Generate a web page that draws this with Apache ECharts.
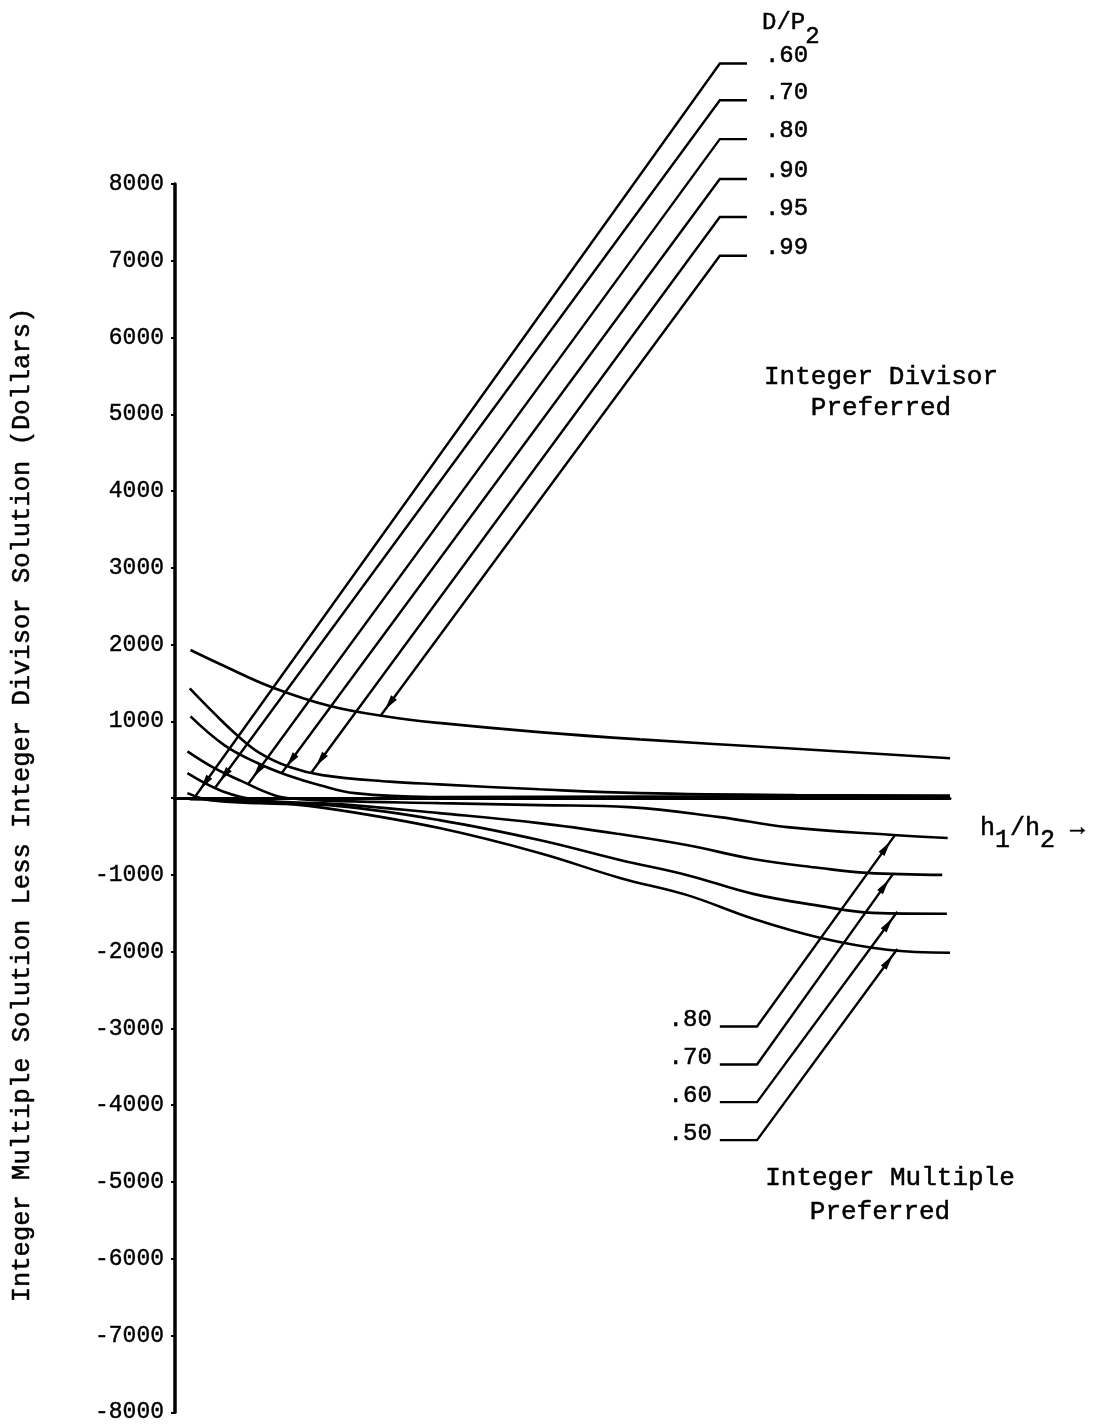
<!DOCTYPE html>
<html><head><meta charset="utf-8">
<script src="https://cdn.jsdelivr.net/npm/echarts@6/dist/echarts.min.js"></script>
<style>html,body{margin:0;padding:0;background:#fff}#c{width:1105px;height:1424px}</style>
</head><body><div id="c"></div>
<script>
// ---------------- data ----------------
// h1/h2 (unnumbered units) vs dollars, one array per D/P2 value
const curveNames = ['.99', '.95', '.90', '.80', '.70', '.60', '.50'];
const dp99 = [[0.2,1930],[0.6,1738],[1.25,1445],[2,1200],[2.75,1060],[3.4,980],[4.7,860],[6,765],[7.9,650],[10,520]];
const dp95 = [[0.19,1430],[0.5,1110],[0.79,830],[1.09,590],[1.48,405],[1.9,300],[2.77,215],[3.41,180],[4.7,115],[6,65],[8,40],[10,35]];
const dp90 = [[0.2,1065],[0.64,688],[1.07,455],[1.45,299],[1.87,169],[2.32,65],[3.3,15],[6,20],[10,25]];
const dp80 = [[0.16,610],[0.51,390],[0.86,221],[1.28,39],[1.61,-13],[2.12,-39],[3.41,-65],[4.7,-91],[5.86,-117],[7.03,-247],[7.9,-377],[9.27,-480],[9.97,-519]];
const dp70 = [[0.16,325],[0.61,91],[1.09,-26],[2.12,-78],[3.41,-195],[4.7,-325],[5.74,-468],[6.6,-610],[7.46,-792],[8.32,-909],[8.93,-974],[9.9,-1000]];
const dp60 = [[0.16,65],[0.45,-26],[1.09,-65],[2.12,-104],[3.41,-286],[4.7,-545],[5.74,-805],[6.6,-1000],[7.46,-1247],[8.32,-1403],[9.0,-1494],[9.96,-1506]];
const dp50 = [[0.19,-13],[1.35,-65],[2.12,-156],[3.41,-390],[4.7,-714],[5.74,-1039],[6.6,-1260],[7.46,-1571],[8.32,-1818],[9.19,-1974],[10,-2013]];
const curveData = [dp99, dp95, dp90, dp80, dp70, dp60, dp50];
const zeroLineExt = [[-1, 0], [0, 0]];

// leader annotations (label row value, arrow tip on the curve)
const upperLabels = ['.60', '.70', '.80', '.90', '.95', '.99'];
const upperRows = [9570, 9090, 8585, 8065, 7570, 7065];
const upperTips = [[0.27,35],[0.52,138],[0.95,190],[1.38,330],[1.76,335],[2.65,1070]];
const lowerLabels = ['.80', '.70', '.60', '.50'];
const lowerRows = [-2975, -3470, -3960, -4455];
const lowerTips = [[9.29,-482],[9.27,-980],[9.32,-1480],[9.32,-1965]];
const upperCornerX = 7.03, upperEndX = 7.38;
const lowerCornerX = 7.51, lowerEndX = 7.03;

const FONT = 'Liberation Mono';

const option = {
  animation: false,
  backgroundColor: '#fff',
  grid: { left: 175, right: 155, top: 184, bottom: 8 },
  xAxis: {
    type: 'value', min: 0, max: 10,
    axisLine: { onZero: true, lineStyle: { color: '#000', width: 3 } },
    axisTick: { show: false }, axisLabel: { show: false }, splitLine: { show: false }
  },
  yAxis: {
    type: 'value', min: -8000, max: 8000, interval: 1000,
    axisLine: { show: true, onZero: false, lineStyle: { color: '#000', width: 3.5 } },
    axisTick: { show: true, length: 4, lineStyle: { color: '#000', width: 2 } },
    axisLabel: {
      color: '#000', fontFamily: FONT, fontSize: 23, margin: 11,
      padding: [0, 0, 10, 0], textBorderColor: '#000', textBorderWidth: 0.4,
      formatter: v => (v === 0 ? '' : String(v))
    },
    splitLine: { show: false }
  },
  series: curveData.map((d, i) => ({
    name: curveNames[i], type: 'line', data: d,
    smooth: 0.4, showSymbol: false, symbol: 'none',
    lineStyle: { color: '#000', width: 2.6 }
  })).concat([{
    name: 'zero', type: 'line', data: zeroLineExt, clip: false,
    showSymbol: false, symbol: 'none', lineStyle: { color: '#000', width: 3 }
  }]),
  graphic: []
};

const chart = echarts.init(document.getElementById('c'));
chart.setOption(option);

const T = (x, y, text, size, align, extra) => Object.assign({
  type: 'text', x, y,
  style: { text, font: size + 'px "' + FONT + '"', fill: '#000', stroke: '#000', lineWidth: 0.5,
    align: align || 'center', verticalAlign: 'middle' }
}, extra || {});

const tok = (size, pad) => ({ fontFamily: FONT, fontSize: size, fill: '#000', stroke: '#000', lineWidth: 0.5, padding: pad });

const g = [
  T(22, 805, 'Integer Multiple Solution Less Integer Divisor Solution (Dollars)', 25.5, 'center', { rotation: Math.PI / 2 }),
  T(881, 377, 'Integer Divisor', 26),
  T(881, 408, 'Preferred', 26),
  T(890, 1178, 'Integer Multiple', 26),
  T(880, 1212, 'Preferred', 26),
  { type: 'text', x: 762, y: 30,
    style: { text: '{m|D/P}{s|2}', align: 'left', verticalAlign: 'middle',
      rich: { m: tok(24, [0, 0, 14, 0]), s: tok(24, [14, 0, 0, 0]) } } },
  { type: 'text', x: 980, y: 834,
    style: { text: '{m|h}{s|1}{m|/h}{s|2}{m| →}', align: 'left', verticalAlign: 'middle',
      rich: { m: tok(25, [0, 0, 12, 0]), s: tok(25, [12, 0, 0, 0]) } } }
];

const px = p => chart.convertToPixel({ gridIndex: 0 }, p);
function addLeader(endX, cornerX, rowV, tip, label, side) {
  const pEnd = px([endX, rowV]);
  const pCorner = px([cornerX, rowV]);
  const pTip = px(tip);
  g.push({ type: 'polyline', shape: { points: [pEnd, pCorner, pTip] },
    style: { stroke: '#000', lineWidth: 2.4, fill: null } });
  const dx = pTip[0] - pCorner[0], dy = pTip[1] - pCorner[1];
  const L = Math.hypot(dx, dy), ux = dx / L, uy = dy / L;
  const ax = pTip[0] - ux * 8, ay = pTip[1] - uy * 8;
  const bx = ax - ux * 15, by = ay - uy * 15;
  g.push({ type: 'polygon', shape: { points: [[ax, ay], [bx - uy * 3.6, by + ux * 3.6], [bx + uy * 3.6, by - ux * 3.6]] },
    style: { fill: '#000' } });
  if (side === 'right') g.push(T(pEnd[0] + 18, pEnd[1] - 8, label, 24, 'left'));
  else g.push(T(pEnd[0] - 8, pEnd[1] - 7, label, 24, 'right'));
}
upperLabels.forEach((l, i) => addLeader(upperEndX, upperCornerX, upperRows[i], upperTips[i], l, 'right'));
lowerLabels.forEach((l, i) => addLeader(lowerEndX, lowerCornerX, lowerRows[i], lowerTips[i], l, 'left'));
chart.setOption({ graphic: g });
</script>
</body></html>
